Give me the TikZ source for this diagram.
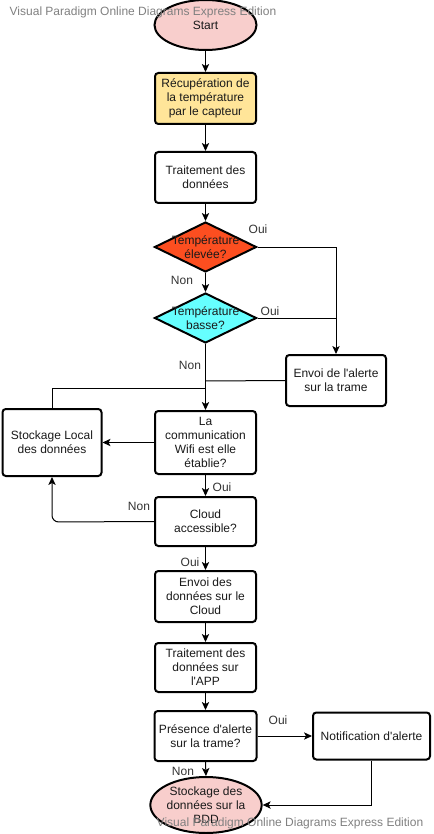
\documentclass[tikz,border=0pt]{standalone}
\usepackage{fontspec}
\setmainfont{Liberation Sans}
\usetikzlibrary{shapes.geometric,arrows.meta}
\definecolor{pinkfill}{HTML}{F8CECC}
\definecolor{yellowfill}{HTML}{FFE599}
\definecolor{hotfill}{HTML}{FC4E20}
\definecolor{coldfill}{HTML}{66FFFF}
\definecolor{inktext}{HTML}{1A1A1A}
\definecolor{marktext}{HTML}{333333}
\definecolor{wmgray}{HTML}{808080}
\newcommand{\apos}{\textquotesingle}
\tikzset{
  every node/.style={font=\fontsize{9}{10.5}\selectfont, text=inktext},
  box/.style={draw, line width=1.5pt, rounded corners=2.5pt, fill=white,
    inner sep=0pt, align=center, minimum width={101*0.75pt}, minimum height={51*0.75pt}},
  term/.style={draw, line width=1.5pt, ellipse, fill=pinkfill, inner sep=0pt,
    align=center, minimum width={102*0.75pt}, minimum height={50*0.75pt}},
  decision/.style={draw, line width=1.5pt, diamond, inner sep=0pt,
    minimum width={102*0.75pt}, minimum height={50*0.75pt}},
  flow/.style={line width=0.75pt, -{Stealth[length=6pt, width=5.5pt, inset=1.5pt]}},
  plain/.style={line width=0.75pt},
  branchlabel/.style={text=marktext},
  watermark/.style={text=wmgray, font=\fontsize{9}{10.5}\selectfont}
}
\begin{document}
\begin{tikzpicture}[x=0.75pt, y=-0.75pt]
\useasboundingbox (0,0) rectangle (433,834);

% process steps
\node[term] (start) at (205.5,25) {Start};
\node[box, fill=yellowfill] (recup) at (205.5,98.5) {Récupération de\\la température\\par le capteur};
\node[box] (trait) at (205.5,177.5) {Traitement des\\données};
\node[decision, fill=hotfill] (elev) at (205.5,247) {};
\node (elevtext) at (elev.center) [align=center] {Température\\élevée?};
\node[decision, fill=coldfill] (basse) at (205.5,318) {};
\node (bassetext) at (basse.center) [align=center] {Température\\basse?};
\node[box, minimum width={100*0.75pt}] (alerte) at (336,380.5) {Envoi de l\apos alerte\\sur la trame};
\node[box, minimum height={63*0.75pt}] (wifi) at (205.5,442.5) {La\\communication\\Wifi est elle\\établie?};
\node[box, minimum width={99*0.75pt}, minimum height={67*0.75pt}] (local) at (52,442.5) {Stockage Local\\des données};
\node[box, minimum height={49*0.75pt}] (cloud) at (205.5,521.5) {Cloud\\accessible?};
\node[box] (envoi) at (205.5,596.5) {Envoi des\\données sur le\\Cloud};
\node[box, minimum height={49*0.75pt}] (app) at (205.5,667.5) {Traitement des\\données sur\\l\apos APP};
\node[box, minimum width={102*0.75pt}, minimum height={50*0.75pt}] (pres) at (205.5,736) {Présence d\apos alerte\\sur la trame?};
\node[box, minimum width={117*0.75pt}, minimum height={47*0.75pt}] (notif) at (371.5,736) {Notification d\apos alerte};
\node[term, minimum height={56*0.75pt}] (bdd) at (206,805) {Stockage des\\données sur la\\BDD};

% junction points
\coordinate (jalert) at (205.5,381);
\coordinate (jlocal) at (205.5,388);
\coordinate (jcloud) at (52,522);

% connectors
\draw[flow] (start) -- (recup);
\draw[flow] (recup) -- (trait);
\draw[flow] (trait) -- (elev.north);
\draw[flow] (elev.south) -- (basse.north);
\draw[flow] (elev.east) -| (alerte.north);
\draw[plain] (basse.east) -- (basse.east -| alerte.north);
\draw[flow] (basse.south) -- (wifi.north);
\draw[plain] (alerte.west) -- (jalert);
\draw[plain] (local.north) |- (jlocal);
\draw[flow] (wifi.west) -- (local.east);
\draw[flow] (wifi.south) -- (cloud.north);
\draw[flow, rounded corners=5pt] (cloud.west) -- (jcloud) -- (local.south);
\draw[flow] (cloud.south) -- (envoi.north);
\draw[flow] (envoi) -- (app);
\draw[flow] (app) -- (pres);
\draw[flow] (pres.east) -- (notif.west);
\draw[flow] (pres.south) -- (bdd.north);
\draw[flow] (notif.south) |- (bdd.east);

% branch labels
\node[branchlabel] (l1) at (258,229.5) {Oui};
\node[branchlabel] (l2) at (182,280) {Non};
\node[branchlabel] (l3) at (270,311) {Oui};
\node[branchlabel] (l4) at (190,365) {Non};
\node[branchlabel] (l5) at (222,487) {Oui};
\node[branchlabel] (l6) at (139,506) {Non};
\node[branchlabel] (l7) at (190,562) {Oui};
\node[branchlabel] (l8) at (278,720) {Oui};
\node[branchlabel] (l9) at (183,771) {Non};

% editor watermark
\node[watermark, anchor=west] (wm1) at (5,12) {Visual Paradigm Online Diagrams Express Edition};
\node[watermark, anchor=east] (wm2) at (428,823) {Visual Paradigm Online Diagrams Express Edition};
\end{tikzpicture}
\end{document}
